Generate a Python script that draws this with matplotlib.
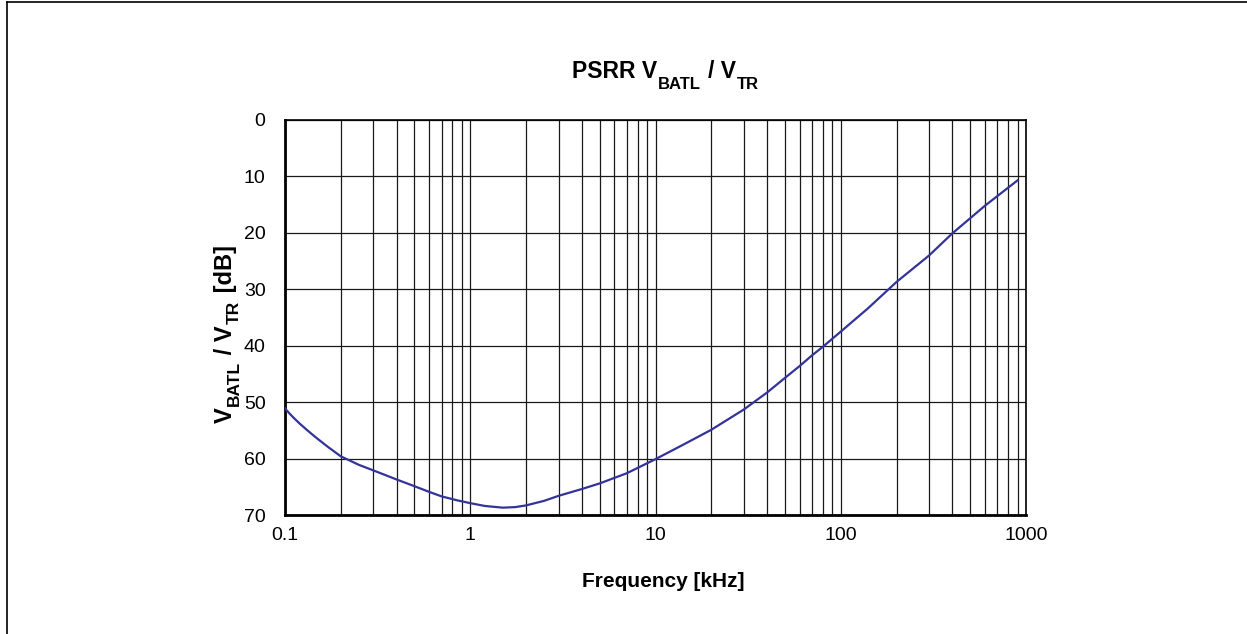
import matplotlib
matplotlib.use("Agg")
import matplotlib.pyplot as plt
from matplotlib.lines import Line2D
from matplotlib.ticker import LogLocator, NullFormatter, FixedLocator

plt.rcParams['font.family'] = ['Liberation Sans', 'DejaVu Sans']

W, H = 1247, 634

# PSRR curve (frequency in kHz, rejection in dB)
freq_khz = [0.1, 0.105, 0.11, 0.12, 0.13, 0.14, 0.15, 0.17, 0.2, 0.25, 0.3, 0.4,
            0.5, 0.6, 0.7, 0.85, 1.0, 1.2, 1.5, 1.75, 2.0, 2.5, 3.0, 4.0, 5.0,
            7.0, 10, 14, 20, 30, 40, 50, 60, 70, 80, 100, 140, 200, 300, 400,
            600, 900]
psrr_db = [51.1, 51.9, 52.6, 53.8, 54.8, 55.7, 56.5, 57.9, 59.6, 61.1, 62.1, 63.7,
           64.9, 65.9, 66.7, 67.4, 67.9, 68.4, 68.7, 68.6, 68.3, 67.5, 66.6, 65.4,
           64.4, 62.6, 60.1, 57.6, 54.9, 51.3, 48.3, 45.7, 43.6, 41.7, 40.2, 37.5,
           33.4, 28.7, 24.0, 20.1, 15.2, 10.7]

y_ticks = [0, 10, 20, 30, 40, 50, 60, 70]
x_ticks = [0.1, 1, 10, 100, 1000]
x_ticklabels = ['0.1', '1', '10', '100', '1000']


def draw_pieces(fig, x0, y0, pieces, rotation=0):
    # text with subscripts, laid out piece by piece (pixel coords, origin bottom-left)
    renderer = fig.canvas.get_renderer()
    pos = 0
    for s, size, drop, gap in pieces:
        pos += gap
        if rotation == 0:
            x, y = x0 + pos, y0 - drop
        else:
            x, y = x0 + drop, y0 + pos
        t = fig.text(x / W, y / H, s, fontsize=size, fontweight='bold',
                     rotation=rotation, rotation_mode='anchor',
                     ha='left', va='baseline')
        bb = t.get_window_extent(renderer)
        pos += bb.width if rotation == 0 else bb.height


fig = plt.figure(figsize=(W / 100, H / 100), dpi=100)
ax = fig.add_axes([285 / W, 1 - 515 / H, 741 / W, 395 / H])

ax.plot(freq_khz, psrr_db, color='#33339a', lw=1.6, zorder=3)

ax.set_xscale('log')
ax.set_xlim(0.1, 1000)
ax.set_ylim(70, 0)

ax.xaxis.set_major_locator(FixedLocator(x_ticks))
ax.set_xticklabels(x_ticklabels)
ax.xaxis.set_minor_locator(LogLocator(base=10, subs=range(2, 10)))
ax.xaxis.set_minor_formatter(NullFormatter())
ax.set_yticks(y_ticks)

ax.grid(True, which='both', axis='x', color='#1a1a1a', lw=0.9)
ax.grid(True, which='major', axis='y', color='#1a1a1a', lw=0.9)
ax.tick_params(which='both', length=0, labelsize=14)
ax.tick_params(axis='x', pad=9)
ax.tick_params(axis='y', pad=14)

for s in ax.spines.values():
    s.set_linewidth(1.2)
ax.spines['left'].set_linewidth(2)
ax.spines['bottom'].set_linewidth(2)

# title
draw_pieces(fig, 572, H - 78, [('PSRR V', 16.5, 0, 0), ('BATL', 12, 11, 1),
                               ('/ V', 16.5, 0, 7), ('TR', 12, 11, 1)])
# y label (rotated)
draw_pieces(fig, 232, H - 423, [('V', 17, 0, 0), ('BATL', 12.5, 7, 1),
                                (' / V', 17, 0, 0), ('TR', 12.5, 7, 1),
                                (' [dB]', 17, 0, 2)], rotation=90)
# x label
fig.text(663 / W, 1 - 587 / H, 'Frequency [kHz]', fontsize=15,
         fontweight='bold', ha='center', va='baseline')

# outer frame (only top and left edges visible in the reference)
fig.add_artist(Line2D([0.0054, 0.0054], [0, 0.9965], color='black', lw=1.2,
                      transform=fig.transFigure))
fig.add_artist(Line2D([0.0054, 1], [0.9965, 0.9965], color='black', lw=1.2,
                      transform=fig.transFigure))

fig.savefig('out.png', dpi=100)
